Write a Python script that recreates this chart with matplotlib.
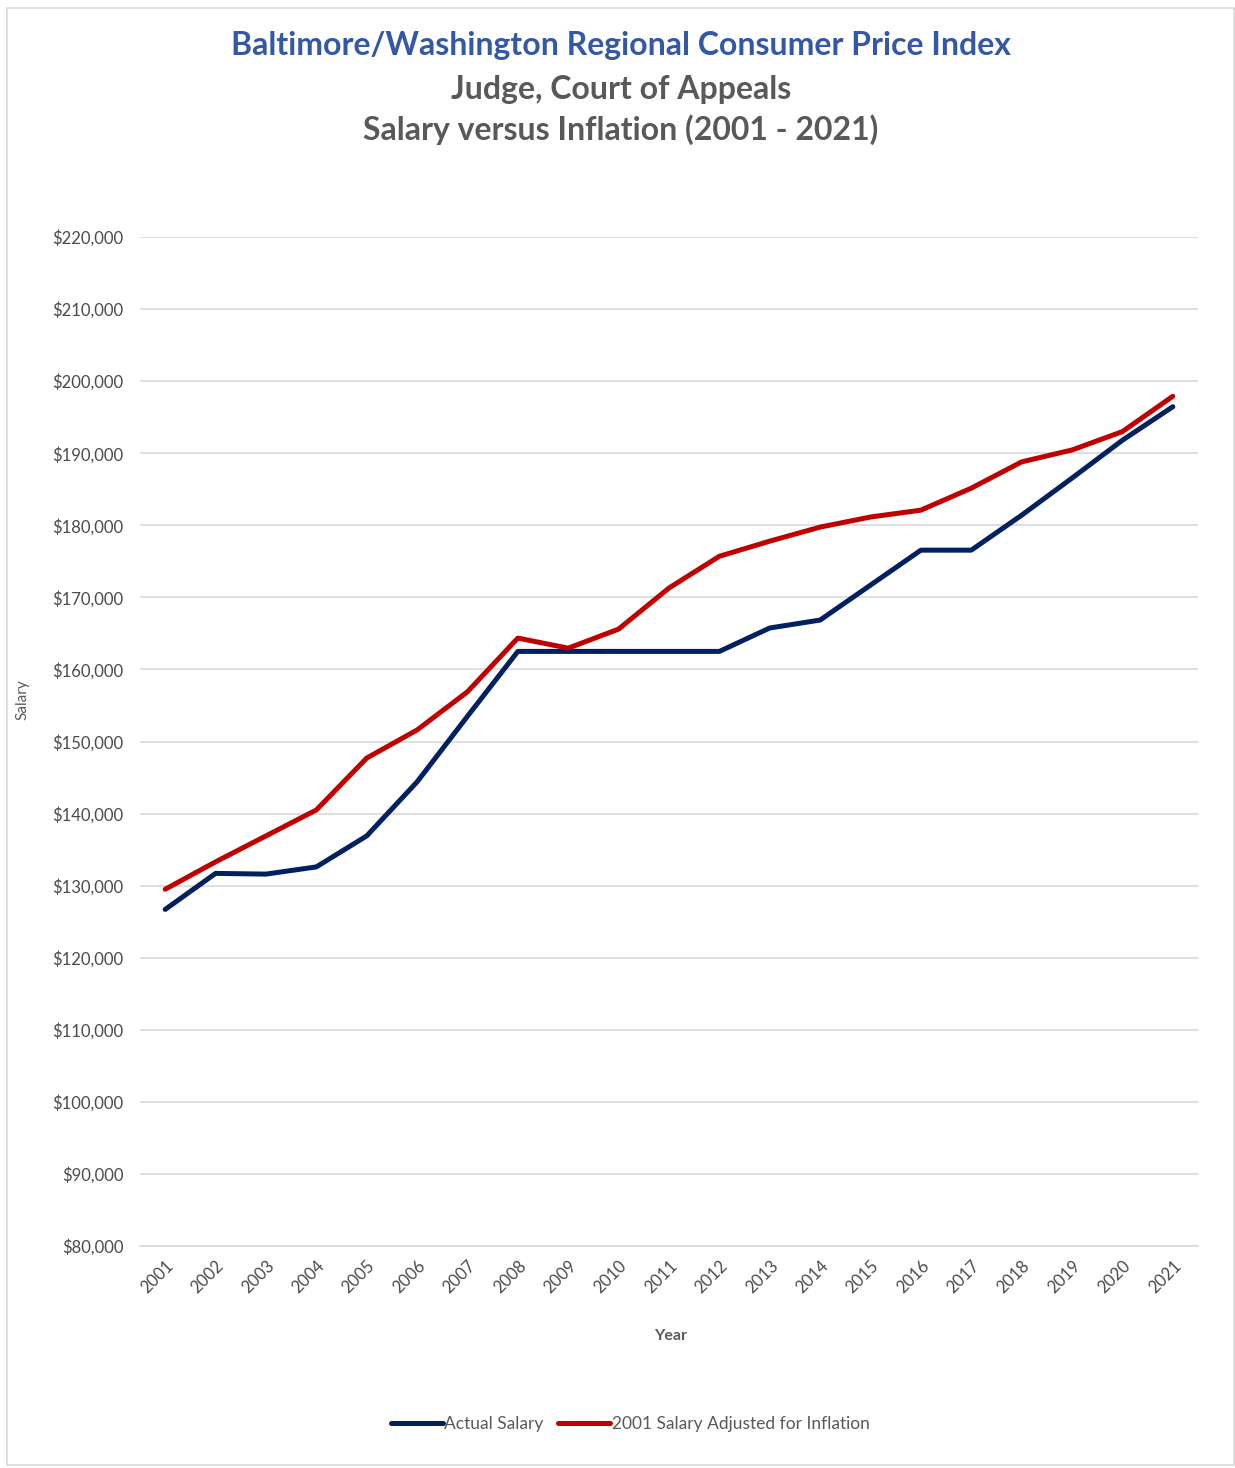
import matplotlib.pyplot as plt
from matplotlib.patches import Rectangle
from matplotlib.ticker import FuncFormatter

plt.rcParams['font.family'] = ['Lato', 'DejaVu Sans']

years = list(range(2001, 2022))
actual_salary = [126700, 131700, 131600, 132600, 136900, 144400, 153500,
                 162500, 162500, 162500, 162500, 162500, 165750, 166850,
                 171700, 176550, 176550, 181400, 186550, 191800, 196450]
adjusted_salary = [129500, 133300, 136900, 140500, 147700, 151600, 156900,
                   164350, 162950, 165600, 171300, 175700, 177800, 179750,
                   181150, 182100, 185150, 188800, 190450, 193000, 197900]
y_ticks = list(range(80000, 220001, 10000))

gray = '#595959'

fig = plt.figure(figsize=(12.35, 14.68), dpi=100)
ax = fig.add_axes([140 / 1235, 1 - 1246 / 1468, (1198 - 140) / 1235, (1246 - 237) / 1468])

ax.plot(years, actual_salary, color='#002060', lw=3.6, label='Actual Salary',
        solid_capstyle='round')
ax.plot(years, adjusted_salary, color='#C00000', lw=3.6,
        label='2001 Salary Adjusted for Inflation', solid_capstyle='round')

ax.set_xlim(2000.5, 2021.5)
ax.set_ylim(80000, 220000)
ax.set_yticks(y_ticks)
ax.set_xticks(years)
ax.set_xticklabels([str(y) for y in years], rotation=45, ha='right', va='top',
                   rotation_mode='anchor')
ax.yaxis.set_major_formatter(FuncFormatter(lambda v, p: '${:,.0f}'.format(v)))
ax.tick_params(axis='both', length=0, labelsize=12, labelcolor='#4a4a4a')
ax.tick_params(axis='y', pad=12)
ax.tick_params(axis='x', pad=8)

ax.grid(axis='y', color='#D9D9D9', lw=1.2)
ax.set_axisbelow(True)
for s in ['top', 'right', 'left']:
    ax.spines[s].set_visible(False)
ax.spines['bottom'].set_color('#D9D9D9')
ax.spines['bottom'].set_linewidth(1.2)

fig.text(22 / 1235, 1 - 700 / 1468, 'Salary', rotation=90, ha='center', va='center',
         fontsize=11, color=gray)
fig.text(671 / 1235, 1 - 1336 / 1468, 'Year', ha='center', va='center',
         fontsize=11.5, color=gray, fontweight='bold')

fig.text(621 / 1235, 1 - 46 / 1468, 'Baltimore/Washington Regional Consumer Price Index',
         ha='center', va='center', fontsize=23, fontweight='bold', color='#3458A5')
fig.text(621 / 1235, 1 - 89 / 1468, 'Judge, Court of Appeals',
         ha='center', va='center', fontsize=23, fontweight='bold', color=gray)
fig.text(621 / 1235, 1 - 130 / 1468, 'Salary versus Inflation (2001 - 2021)',
         ha='center', va='center', fontsize=23, fontweight='bold', color=gray)

fig.legend(loc='center', bbox_to_anchor=(630 / 1235, 1 - 1424 / 1468), ncol=2,
           frameon=False, fontsize=12.5, labelcolor=gray, handlelength=3.0,
           handletextpad=0.1, columnspacing=0.8)

fig.patches.append(Rectangle((7 / 1235, 1 - 1465 / 1468), 1227 / 1235, 1457 / 1468,
                             transform=fig.transFigure, fill=False,
                             edgecolor='#D9D9D9', lw=1.2))

fig.savefig('out.png', dpi=100, facecolor='white')
